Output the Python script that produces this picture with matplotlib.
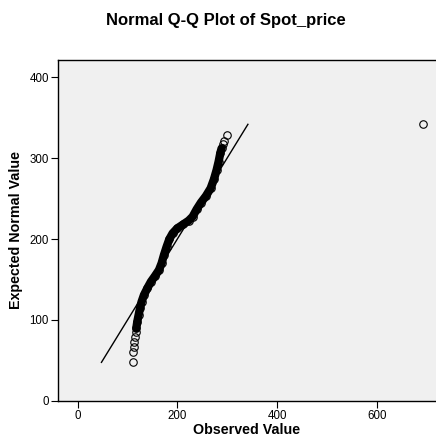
import numpy as np
import matplotlib.pyplot as plt

plt.rcParams['font.family'] = ['Liberation Sans', 'DejaVu Sans']

observado = [110.3, 111.6, 112.3, 113.6, 114.9, 116.3, 117.6, 119.6, 122.3, 125.0,
             128.3, 133.0, 139.7, 147.0, 155.1, 163.1, 168.4, 173.1, 178.5, 183.8,
             190.5, 199.9, 211.9, 222.6, 230.7, 238.7, 247.3, 257.4, 266.8, 273.4,
             278.8, 282.8, 286.1, 288.8, 290.9, 292.8, 299.5, 693.0]
esperado = [47.7, 60.9, 67.1, 73.3, 79.4, 84.8, 89.7, 97.9, 106.2, 114.4,
            122.6, 130.9, 139.1, 147.3, 154.3, 161.7, 170.0, 180.2, 190.5, 199.6,
            207.0, 213.2, 218.1, 222.6, 227.6, 236.6, 244.9, 253.1, 262.6, 273.7,
            285.2, 295.5, 305.8, 311.9, 317.3, 321.4, 328.4, 341.6]

# Tramo denso de la banda (índices)
ini, fin = 6, 34

fig = plt.figure(figsize=(4.36, 4.37), dpi=100)
ax = fig.add_axes([0.133, 0.0824, 0.867, 0.7803])
ax.set_facecolor('#f0f0f0')

# Línea de referencia y = x
lim = [min(esperado), max(esperado)]
ax.plot(lim, lim, color='black', linewidth=1)

# Banda densa de círculos superpuestos
ax.plot(observado[ini:fin], esperado[ini:fin], color='black', linewidth=6,
        solid_capstyle='round', solid_joinstyle='round')
ax.plot(observado, esperado, linestyle='none', marker='o', markersize=5.4,
        markerfacecolor='none', markeredgecolor='black', markeredgewidth=0.8)

ax.set_xlim(-39.5, 719)
ax.set_ylim(0, 421)
ax.set_xticks([0, 200, 400, 600])
ax.set_yticks([0, 100, 200, 300, 400])
ax.tick_params(labelsize=8.3, length=5, width=0.8, colors='black', pad=1.5)
for s in ['left', 'bottom', 'top']:
    ax.spines[s].set_linewidth(1)
ax.spines['right'].set_visible(False)

ax.set_xlabel('Observed Value', fontsize=10.3, fontweight='bold', labelpad=1)
ax.set_ylabel('Expected Normal Value', fontsize=10.3, fontweight='bold', labelpad=5)
fig.text(0.518, 0.952, 'Normal Q-Q Plot of Spot_price', ha='center', va='center',
         fontsize=12, fontweight='bold')

fig.savefig('out.png', dpi=100)
